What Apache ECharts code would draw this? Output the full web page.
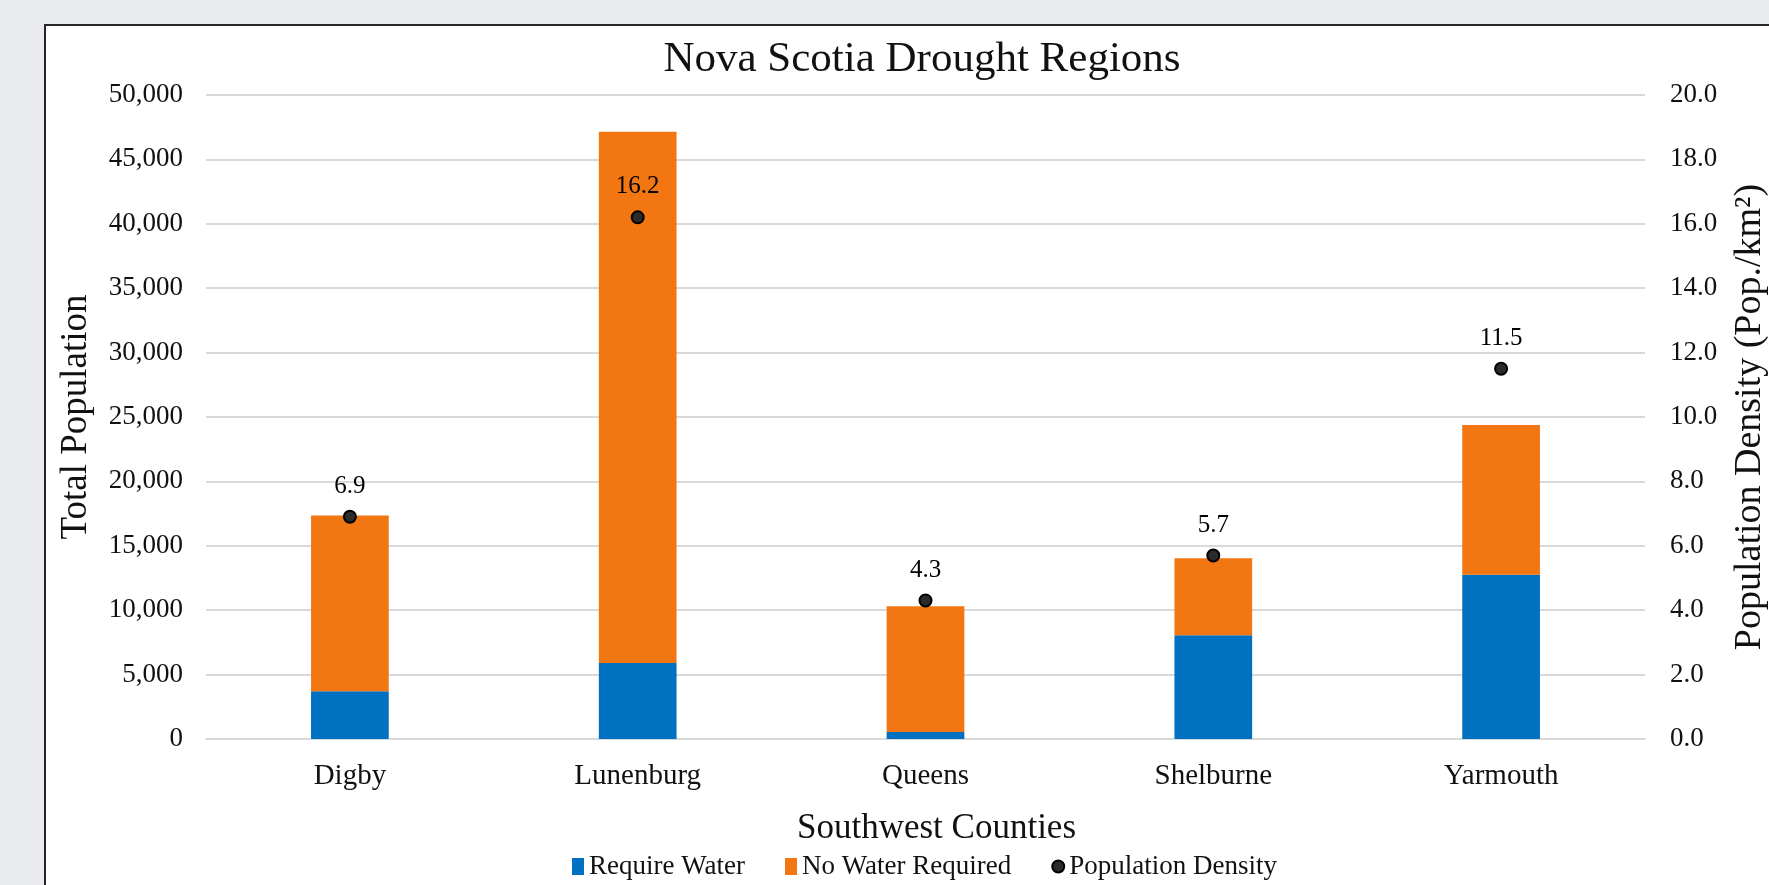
<!DOCTYPE html>
<html>
<head>
<meta charset="utf-8">
<script src="https://cdn.jsdelivr.net/npm/echarts@6/dist/echarts.min.js"></script>
<style>
  html, body { margin: 0; padding: 0; background: #E9EBEF; }
  #main { width: 1769px; height: 885px; }
</style>
</head>
<body>
<div id="main"></div>
<script>
var counties = ['Digby', 'Lunenburg', 'Queens', 'Shelburne', 'Yarmouth'];
var requireWater = [3700, 5900, 550, 8050, 12750];
var noWaterRequired = [13650, 41250, 9750, 5980, 11630];
var popDensity = [6.9, 16.2, 4.3, 5.7, 11.5];

var serif = "'Liberation Serif', 'Times New Roman', serif";
var txt = '#111';

var myChart = echarts.init(document.getElementById('main'));

var option = {
    backgroundColor: '#E9EBEF',
    textStyle: { fontFamily: serif, color: txt },
    graphic: [{
        type: 'rect',
        z: -10,
        shape: { x: 45, y: 25, width: 1800, height: 900 },
        style: { fill: '#fff', stroke: '#262626', lineWidth: 2 }
    }],
    title: {
        text: 'Nova Scotia Drought Regions',
        left: 917,
        textAlign: 'center',
        top: 33,
        textStyle: { fontFamily: serif, fontSize: 43, fontWeight: 'normal', color: txt }
    },
    legend: {
        bottom: 0,
        left: 567,
        itemWidth: 12,
        itemHeight: 17,
        itemGap: 40,
        textStyle: { fontFamily: serif, fontSize: 27, color: txt },
        data: [
            { name: 'Require Water', icon: 'rect' },
            { name: 'No Water Required', icon: 'rect' },
            { name: 'Population Density', icon: 'circle' }
        ]
    },
    grid: { left: 206, right: 124, top: 95, bottom: 146, outerBoundsMode: 'none', containLabel: false },
    xAxis: {
        type: 'category',
        data: counties,
        name: 'Southwest Counties',
        nameLocation: 'middle',
        nameGap: 72,
        nameTextStyle: { fontFamily: serif, fontSize: 35, color: txt, padding: [0, 0, 0, 22] },
        axisLine: { lineStyle: { color: '#d9d9d9', width: 2 } },
        axisTick: { show: false },
        axisLabel: { fontFamily: serif, fontSize: 29, color: txt, margin: 23 }
    },
    yAxis: [{
        type: 'value',
        min: 0,
        max: 50000,
        interval: 5000,
        name: 'Total Population',
        nameLocation: 'middle',
        nameRotate: 90,
        nameGap: 111,
        nameTextStyle: { fontFamily: serif, fontSize: 37, color: txt },
        axisLabel: {
            fontFamily: serif, fontSize: 27, color: txt, margin: 23,
            formatter: function (v) { return v.toLocaleString('en-US'); }
        },
        splitLine: { lineStyle: { color: '#d9d9d9', width: 2 } }
    }, {
        type: 'value',
        min: 0,
        max: 20,
        interval: 2,
        name: 'Population Density (Pop./km²)',
        nameLocation: 'middle',
        nameRotate: 90,
        nameGap: 86,
        nameTextStyle: { fontFamily: serif, fontSize: 38, color: txt },
        axisLabel: {
            fontFamily: serif, fontSize: 27, color: txt, margin: 25,
            formatter: function (v) { return v.toFixed(1); }
        },
        splitLine: { show: false }
    }],
    series: [{
        name: 'Require Water',
        type: 'bar',
        stack: 'pop',
        barWidth: '27%',
        itemStyle: { color: '#0071C1' },
        data: requireWater
    }, {
        name: 'No Water Required',
        type: 'bar',
        stack: 'pop',
        barWidth: '27%',
        itemStyle: { color: '#F27712' },
        data: noWaterRequired
    }, {
        name: 'Population Density',
        type: 'scatter',
        yAxisIndex: 1,
        symbolSize: 12,
        itemStyle: { color: '#2b2b2b', borderColor: '#000', borderWidth: 2, opacity: 1 },
        label: {
            show: true,
            position: 'top',
            distance: 11,
            fontFamily: serif,
            fontSize: 25,
            color: '#000',
            formatter: function (p) { return p.value.toFixed(1); }
        },
        z: 5,
        data: popDensity
    }]
};

myChart.setOption(option);
</script>
</body>
</html>
